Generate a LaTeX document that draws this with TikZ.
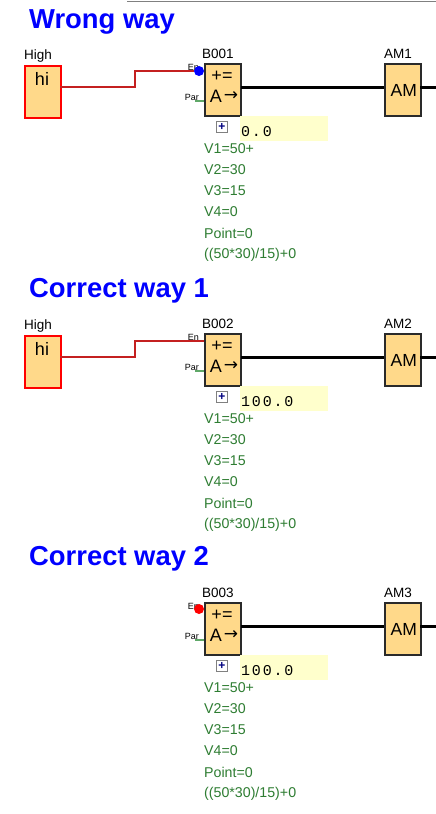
\documentclass[tikz,border=0pt]{standalone}
\usepackage{fontspec}
\setmainfont{Liberation Sans}
\newfontfamily\valuefont[LetterSpace=12]{Liberation Mono}
\newfontfamily\flechefont{DejaVu Sans}

\definecolor{blocfond}{HTML}{FFD98A}
\definecolor{blocbord}{HTML}{2A2A2A}
\definecolor{valfond}{HTML}{FFFFCC}
\definecolor{partexte}{HTML}{2E7D32}
\definecolor{fil}{HTML}{C42020}
\definecolor{filpar}{HTML}{5FA868}
\definecolor{titre}{HTML}{0000FF}

\tikzset{
  bloc/.style={draw=blocbord, fill=blocfond, line width=2pt, minimum width=36pt, minimum height=52pt, inner sep=0pt, anchor=north west, font=\fontsize{17.5}{18}\selectfont},
  hibloc/.style={draw=red, fill=blocfond, line width=1.9pt, minimum width=36pt, minimum height=52pt, inner sep=0pt, anchor=north west},
  titreligne/.style={anchor=west, inner sep=0pt, text=titre, font=\fontsize{27.4}{30}\selectfont\bfseries},
  etiq/.style={anchor=west, inner sep=0pt, font=\fontsize{13.5}{14}\selectfont},
  port/.style={anchor=east, inner sep=0pt, font=\fontsize{9}{9}\selectfont},
  symb/.style={inner sep=0pt, font=\fontsize{18}{18}\selectfont},
  ligne/.style={anchor=west, inner sep=0pt, text=partexte, font=\fontsize{14.2}{15}\selectfont},
  valeur/.style={draw=none, fill=valfond, anchor=north west, minimum width=88pt, minimum height=25pt, inner sep=1pt, text width=86pt, align=left, font=\fontsize{15}{16}\valuefont},
  bouton/.style={draw=gray, fill=white, line width=1pt, minimum size=11pt, inner sep=0pt, text=blue!50!black, font=\fontsize{12}{12}\selectfont\bfseries},
  filhaut/.style={draw=fil, line width=2pt},
  filbas/.style={draw=filpar, line width=1.2pt},
  fort/.style={draw=black, line width=3pt}
}

\begin{document}
\begin{tikzpicture}[x=1pt, y=-1pt]
\useasboundingbox (0,0) rectangle (436,814);
\fill[white] (0,0) rectangle (436,814);
\coordinate (hautg) at (127,1);
\coordinate (hautd) at (436,1);
\draw[gray, line width=1pt] (hautg) -- (hautd);

\node[titreligne] (titre1) at (29,22) {Wrong way};
\node[titreligne] (titre2) at (29,291) {Correct way 1};
\node[titreligne] (titre3) at (29,559) {Correct way 2};

\foreach \n/\y/\val in {1/0/0.0, 2/270/100.0, 3/539/100.0}{
  \node[bloc] (b\n) at (204,63+\y) {};
  \node[etiq] (nomb\n) at (202,54+\y) {B00\n};
  \node[symb] (symplus\n) at (222,76+\y) {+=};
  \node[symb] (symlettre\n) at (216,96+\y) {A};
  \node[symb, font=\fontsize{17}{17}\flechefont] (symfleche\n) at (231,96+\y) {\char"2192};
  \node[port] (en\n) at (199,67+\y) {En};
  \node[port] (par\n) at (199,97+\y) {Par};
  \coordinate (pin\n) at (195,101+\y);
  \coordinate (pout\n) at (204,101+\y);
  \draw[filbas] (pin\n) -- (pout\n);
  \node[bloc] (am\n) at (384,63+\y) {\hspace{1.5pt}AM};
  \node[etiq] (nomam\n) at (384,54+\y) {AM\n};
  \coordinate (fin\n) at (436,87+\y);
  \coordinate (sortie\n) at (241,87+\y);
  \coordinate (entree\n) at (384,87+\y);
  \coordinate (sam\n) at (420,87+\y);
  \draw[fort] (sortie\n) -- (entree\n);
  \draw[fort] (sam\n) -- (fin\n);
  \node[valeur] (val\n) at (240,116+\y) {\rule{0pt}{16pt}\val};
  \node[bouton] (plus\n) at (222,127+\y) {+};
  \node[ligne] (va\n) at (204,149+\y) {V1=50+};
  \node[ligne] (vb\n) at (204,170+\y) {V2=30};
  \node[ligne] (vc\n) at (204,191+\y) {V3=15};
  \node[ligne] (vd\n) at (204,212+\y) {V4=0};
  \node[ligne] (ve\n) at (204,233+\y) {Point=0};
  \node[ligne] (vf\n) at (204,255+\y) {((50*30)/15)+0};
}

% les deux blocs hi
\node[hibloc] (hi1) at (24,65) {};
\node[symb] (hitxt1) at (42,79) {hi};
\node[etiq] (nomhi1) at (24,56) {High};
\coordinate (sa1) at (60,87);
\coordinate (sm1) at (135,87);
\coordinate (sh1) at (135,71);
\node[circle, fill=blue, minimum size=10pt, inner sep=0pt] (endot1) at (199,71) {};
\draw[filhaut] (sa1) -- (sm1) -- (sh1) -- (endot1);

\node[hibloc] (hi2) at (24,335) {};
\node[symb] (hitxt2) at (42,349) {hi};
\node[etiq] (nomhi2) at (24,326) {High};
\coordinate (sa2) at (60,357);
\coordinate (sm2) at (135,357);
\coordinate (sh2) at (135,341);
\coordinate (sb2) at (204,341);
\draw[filhaut] (sa2) -- (sm2) -- (sh2) -- (sb2);

\node[circle, fill=red, minimum size=10pt, inner sep=0pt] (endot3) at (199,609) {};
\end{tikzpicture}
\end{document}
